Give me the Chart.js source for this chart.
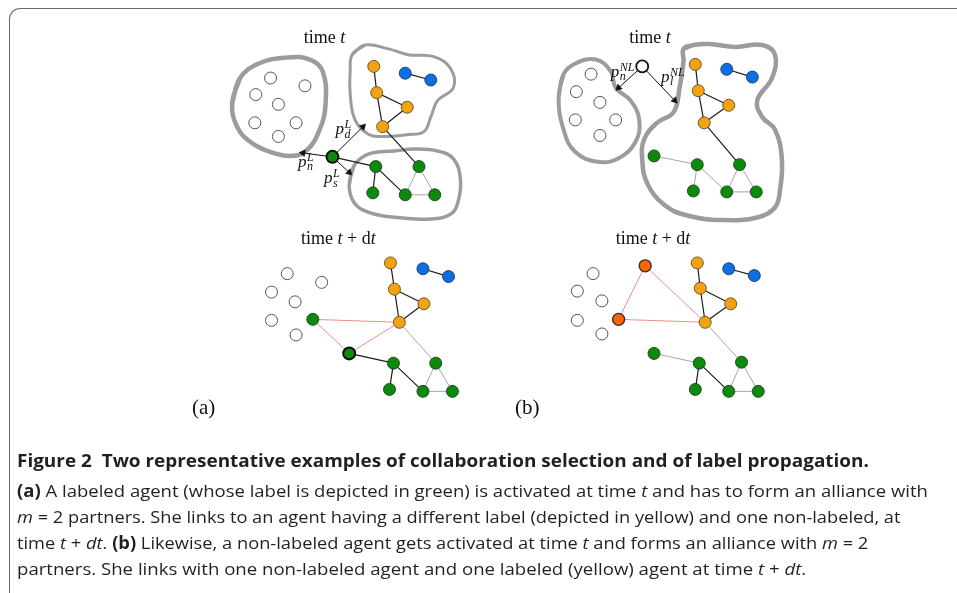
<!DOCTYPE html>
<html>
<head>
<meta charset="utf-8">
<script src="https://cdn.jsdelivr.net/npm/chart.js@4.4.0/dist/chart.umd.min.js"></script>
<style>
  html, body { margin: 0; padding: 0; background: #fff; }
  #wrap { position: relative; width: 957px; height: 593px; overflow: hidden; }
  #fig { position: absolute; left: 0; top: 0; }
  #frame { position: absolute; left: 9px; top: 8px; width: 1000px; height: 700px;
           border-left: 1.5px solid #6a6a6a; border-top: 1.5px solid #6a6a6a; border-top-left-radius: 11px; }
  .cap { position: absolute; left: 17px; display: inline-block; white-space: nowrap;
         font-family: 'Open Sans', sans-serif; font-size: 17px; line-height: 20px; color: #231f20;
         transform-origin: 0 50%; }
  .cap b { font-weight: 700; }
</style>
</head>
<body>
<div id="wrap">
  <div id="frame"></div>
  <canvas id="fig" width="957" height="593"></canvas>
  <div class="cap" data-w="852" style="top:451px"><b>Figure 2</b>&nbsp; <b>Two representative examples of collaboration selection and of label propagation.</b></div>
  <div class="cap" data-w="911" style="top:481px"><b>(a)</b> A labeled agent (whose label is depicted in green) is activated at time <i>t</i> and has to form an alliance with</div>
  <div class="cap" data-w="884" style="top:507px"><i>m</i> = 2 partners. She links to an agent having a different label (depicted in yellow) and one non-labeled, at</div>
  <div class="cap" data-w="851" style="top:533px">time <i>t</i> + <i>dt</i>. <b>(b)</b> Likewise, a non-labeled agent gets activated at time <i>t</i> and forms an alliance with <i>m</i> = 2</div>
  <div class="cap" data-w="789" style="top:559px">partners. She links with one non-labeled agent and one labeled (yellow) agent at time <i>t</i> + <i>dt</i>.</div>
</div>
<script>
// node kinds: e non-labeled, E activated non-labeled, o yellow label, b blue label,
// g green label, G activated green, r newly labeled (orange-red)

// panel (a), time t
const aTopNodes = [
  [267, 72, 'e'], [302, 80, 'e'], [252, 89, 'e'], [275, 99, 'e'], [251, 118, 'e'], [293, 118, 'e'], [275, 132, 'e'],
  [372, 60, 'o'], [375, 87, 'o'], [406, 102, 'o'], [381, 122, 'o'],
  [404, 67, 'b'], [430, 74, 'b'],
  [330, 153, 'G'], [374, 163, 'g'], [418, 163, 'g'], [371, 190, 'g'], [404, 192, 'g'], [434, 192, 'g']
];
const aTopBlack = [[7, 8], [8, 9], [8, 10], [9, 10], [10, 15], [11, 12], [13, 14], [14, 16], [14, 17]];
const aTopGray = [[15, 17], [15, 18], [17, 18]];
const aTopArrows = [[330, 153, 300, 149], [330, 153, 361, 122], [330, 153, 347, 169]];

// panel (b), time t
const bTopNodes = [
  [593, 68, 'e'], [578, 86, 'e'], [602, 97, 'e'], [577, 115, 'e'], [618, 115, 'e'], [602, 131, 'e'],
  [645, 60, 'E'],
  [699, 58, 'o'], [702, 85, 'o'], [733, 100, 'o'], [708, 118, 'o'],
  [731, 63, 'b'], [757, 71, 'b'],
  [657, 152, 'g'], [701, 161, 'g'], [744, 161, 'g'], [697, 188, 'g'], [731, 189, 'g'], [761, 189, 'g']
];
const bTopBlack = [[7, 8], [8, 9], [8, 10], [9, 10], [10, 15], [11, 12]];
const bTopGray = [[13, 14], [14, 16], [14, 17], [15, 17], [15, 18], [17, 18]];
const bTopArrows = [[645, 60, 621, 82], [645, 60, 678, 95]];

// panel (a), time t + dt
const aBotNodes = [
  [284, 273, 'e'], [319, 282, 'e'], [268, 292, 'e'], [292, 302, 'e'], [268, 321, 'e'], [293, 336, 'e'],
  [310, 320, 'g'], [347, 355, 'G'],
  [389, 262, 'o'], [393, 289, 'o'], [423, 304, 'o'], [398, 323, 'o'],
  [422, 268, 'b'], [448, 276, 'b'],
  [392, 365, 'g'], [435, 365, 'g'], [388, 392, 'g'], [422, 394, 'g'], [452, 394, 'g']
];
const aBotBlack = [[8, 9], [9, 10], [9, 11], [10, 11], [12, 13], [7, 14], [14, 16], [14, 17]];
const aBotGray = [[11, 15], [15, 17], [15, 18], [17, 18]];
const aBotRed = [[6, 11], [6, 7], [7, 11]];

// panel (b), time t + dt
const bBotNodes = [
  [595, 273, 'e'], [579, 291, 'e'], [604, 301, 'e'], [579, 321, 'e'], [604, 335, 'e'],
  [648, 265, 'r'], [621, 320, 'r'],
  [701, 262, 'o'], [704, 288, 'o'], [735, 304, 'o'], [709, 323, 'o'],
  [733, 268, 'b'], [759, 275, 'b'],
  [657, 355, 'g'], [703, 365, 'g'], [746, 364, 'g'], [699, 392, 'g'], [733, 394, 'g'], [763, 394, 'g']
];
const bBotBlack = [[7, 8], [8, 9], [8, 10], [9, 10], [11, 12], [14, 16], [14, 17]];
const bBotGray = [[10, 15], [13, 14], [15, 17], [15, 18], [17, 18]];
const bBotRed = [[5, 10], [5, 6], [6, 10]];

// community outlines (closed curves)
const aBlobLeft = [[228, 98], [236, 72], [255, 57], [283, 51], [307, 53], [320, 65], [323, 98], [317, 125],
  [303, 147], [287, 152], [267, 148], [247, 138], [233, 122]];
const aBlobTop = [[350, 48], [363, 38], [387, 42], [407, 48], [433, 50], [450, 62], [453, 82], [437, 95],
  [430, 112], [423, 127], [407, 130], [380, 132], [367, 130], [353, 115], [348, 88], [348, 65]];
const aBlobBottom = [[347, 182], [352, 162], [367, 150], [393, 147], [413, 145], [437, 147], [453, 155],
  [460, 175], [458, 198], [450, 212], [427, 217], [393, 215], [367, 210], [352, 200]];
const bBlobLeft = [[560, 92], [565, 68], [577, 57], [598, 53], [613, 65], [618, 82], [633, 95], [642, 115],
  [638, 138], [620, 155], [600, 158], [577, 148], [565, 125]];
const bBlobRight = [[687, 42], [697, 38], [713, 37], [740, 40], [767, 38], [780, 48], [777, 72], [762, 95],
  [767, 112], [780, 125], [787, 155], [785, 188], [780, 205], [763, 215], [727, 218], [690, 213], [667, 202],
  [650, 180], [645, 155], [647, 135], [660, 118], [677, 107], [683, 82], [687, 55]];

// ---- styles ----
const kindStyle = {
  e: { fill: '#ffffff', border: '#555555', width: 1 },
  E: { fill: '#ffffff', border: '#111111', width: 1.8 },
  o: { fill: '#f4a30e', border: '#5e4c2c', width: 0.9 },
  b: { fill: '#0b6fe2', border: '#1f3a63', width: 0.9 },
  g: { fill: '#0b8a0b', border: '#1b421b', width: 0.9 },
  G: { fill: '#0b8a0b', border: '#0a0a0a', width: 2 },
  r: { fill: '#ff6500', border: '#333333', width: 1.4 }
};
const edgeStyle = {
  black: { color: '#1c1c1c', width: 1.2 },
  gray:  { color: '#a6a6a6', width: 1 },
  red:   { color: '#f08c8c', width: 1 }
};

const pt = n => ({ x: n[0], y: n[1] });

function nodeSets(nodes) {
  return Object.keys(kindStyle).map(k => {
    const s = kindStyle[k];
    return {
      data: nodes.filter(n => n[2] === k).map(pt),
      pointRadius: 6, pointBackgroundColor: s.fill, pointBorderColor: s.border,
      pointBorderWidth: s.width, showLine: false, order: 0
    };
  }).filter(d => d.data.length);
}

function edgeSet(nodes, pairs, style) {
  const s = edgeStyle[style];
  const data = [];
  pairs.forEach(([i, j]) => {
    data.push(pt(nodes[i]), pt(nodes[j]), { x: NaN, y: NaN });
  });
  return { data, showLine: true, spanGaps: false, tension: 0, pointRadius: 0,
           borderColor: s.color, borderWidth: s.width, order: 2 };
}

function arrowSets(arrows) {
  return arrows.map(([x0, y0, x1, y1]) => {
    const rot = Math.atan2(x1 - x0, -(y1 - y0)) * 180 / Math.PI;
    return {
      data: [{ x: x0, y: y0 }, { x: x1, y: y1 }],
      showLine: true, tension: 0, borderColor: '#111', borderWidth: 1,
      pointStyle: 'triangle', pointRadius: [0, 3.8], pointRotation: [0, rot],
      pointBackgroundColor: '#111', pointBorderColor: '#111', pointBorderWidth: 0.5, order: 1
    };
  });
}

function blobSet(outline, width) {
  const data = outline.concat([outline[0], outline[1]]).map(pt);
  return { data, showLine: true, tension: 0.42, pointRadius: 0,
           borderColor: '#9c9c9c', borderWidth: width, order: 3 };
}

const datasets = [
  ...nodeSets(aTopNodes), ...nodeSets(bTopNodes), ...nodeSets(aBotNodes), ...nodeSets(bBotNodes),
  ...arrowSets(aTopArrows), ...arrowSets(bTopArrows),
  edgeSet(aTopNodes, aTopBlack, 'black'), edgeSet(aTopNodes, aTopGray, 'gray'),
  edgeSet(bTopNodes, bTopBlack, 'black'), edgeSet(bTopNodes, bTopGray, 'gray'),
  edgeSet(aBotNodes, aBotBlack, 'black'), edgeSet(aBotNodes, aBotGray, 'gray'), edgeSet(aBotNodes, aBotRed, 'red'),
  edgeSet(bBotNodes, bBotBlack, 'black'), edgeSet(bBotNodes, bBotGray, 'gray'), edgeSet(bBotNodes, bBotRed, 'red'),
  blobSet(aBlobLeft, 4.5), blobSet(aBlobTop, 3), blobSet(aBlobBottom, 3.5),
  blobSet(bBlobLeft, 4), blobSet(bBlobRight, 4.5)
];

// ---- text on the figure (positioned through the scales) ----
const serif = '"Liberation Serif", "DejaVu Serif", serif';
const panelTitles = [
  { x: 322, y: 36, parts: [['time ', ''], ['t', 'italic ']] },
  { x: 653, y: 36, parts: [['time ', ''], ['t', 'italic ']] },
  { x: 336, y: 243, parts: [['time ', ''], ['t', 'italic '], [' + ', ''], ['d', ''], ['t', 'italic ']] },
  { x: 656, y: 243, parts: [['time ', ''], ['t', 'italic '], [' + ', ''], ['d', ''], ['t', 'italic ']] }
];
const panelLetters = [['(a)', 199, 417], ['(b)', 528, 417]];
const probLabels = [
  ['p', 'L', 'd', 333, 129.5],
  ['p', 'L', 'n', 295, 163],
  ['p', 'L', 's', 321.5, 180],
  ['p', 'NL', 'n', 613, 70.5],
  ['p', 'NL', 'l', 664, 76]
];

const textPlugin = {
  id: 'figureText',
  afterDraw(chart) {
    const { ctx, scales: { x, y } } = chart;
    ctx.save();
    ctx.fillStyle = '#111';
    ctx.textBaseline = 'alphabetic';
    ctx.textAlign = 'left';

    panelTitles.forEach(t => {
      let total = 0;
      t.parts.forEach(([s, st]) => { ctx.font = st + '18px ' + serif; total += ctx.measureText(s).width; });
      let cx = x.getPixelForValue(t.x) - total / 2;
      const cy = y.getPixelForValue(t.y);
      t.parts.forEach(([s, st]) => {
        ctx.font = st + '18px ' + serif;
        ctx.fillText(s, cx, cy);
        cx += ctx.measureText(s).width;
      });
    });

    ctx.font = '21px ' + serif;
    ctx.textAlign = 'center';
    panelLetters.forEach(([s, px, py]) => ctx.fillText(s, x.getPixelForValue(px), y.getPixelForValue(py)));

    ctx.textAlign = 'left';
    probLabels.forEach(([m, sup, sub, px, py]) => {
      const lx = x.getPixelForValue(px), ly = y.getPixelForValue(py);
      ctx.font = 'italic 17px ' + serif;
      ctx.fillText(m, lx, ly);
      const w = ctx.measureText(m).width;
      ctx.font = 'italic 12px ' + serif;
      ctx.fillText(sup, lx + w + 0.5, ly - 6);
      ctx.fillText(sub, lx + w + 0.5, ly + 3.5);
    });
    ctx.restore();
  }
};

new Chart(document.getElementById('fig'), {
  type: 'scatter',
  data: { datasets },
  options: {
    responsive: false,
    animation: false,
    events: [],
    layout: { padding: 0 },
    plugins: { legend: { display: false }, tooltip: { enabled: false } },
    scales: {
      x: { type: 'linear', min: 0, max: 957, display: false },
      y: { type: 'linear', min: 0, max: 593, reverse: true, display: false }
    }
  },
  plugins: [textPlugin]
});

// squeeze caption lines to the reference line lengths
document.querySelectorAll('.cap').forEach(el => {
  const target = +el.dataset.w;
  el.style.transform = 'scaleX(' + (target / el.offsetWidth).toFixed(4) + ')';
});
</script>
</body>
</html>
